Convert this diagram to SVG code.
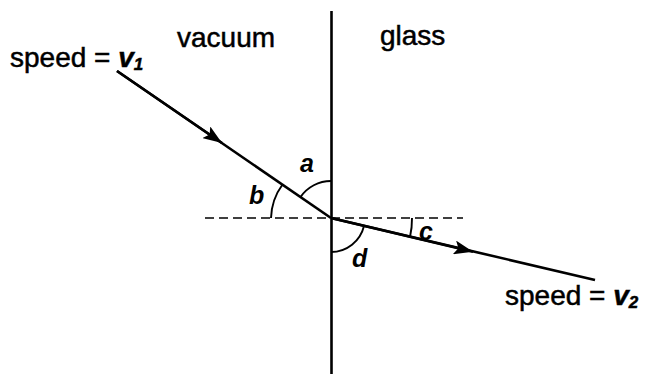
<svg xmlns="http://www.w3.org/2000/svg" width="646" height="374" viewBox="0 0 646 374">
<style>
text{font-family:"Liberation Sans",Arial,sans-serif;fill:#000;stroke:#000;stroke-width:0.5}
.lbl{font-size:28px}
.ang{font-size:25px;font-style:italic;font-weight:bold;stroke-width:0}
.it{font-style:italic;font-weight:bold}
.sub{font-size:17px;font-style:italic;font-weight:bold}
.ray{stroke:#000;stroke-width:2.6;fill:none}
.arc{stroke:#000;stroke-width:1.9;fill:none}
</style>
<defs>
<marker id="ah" markerWidth="19" markerHeight="14" refX="19" refY="7" orient="auto" markerUnits="userSpaceOnUse">
<path d="M0,0 L19,7 L0,14 L4,7 Z" fill="#000"/>
</marker>
</defs>
<g id="boundary">
<line x1="331.5" y1="11" x2="331.5" y2="374" stroke="#000" stroke-width="2.6"/>
<line x1="205" y1="218" x2="463" y2="218" stroke="#000" stroke-width="1.6" stroke-dasharray="9,5"/>
</g>
<g id="connectors">
<line class="ray" x1="117" y1="71" x2="331" y2="218"/>
<line class="ray" x1="117" y1="71" x2="222" y2="143" marker-end="url(#ah)"/>
<line class="ray" x1="331" y1="218" x2="595" y2="280"/>
<line class="ray" x1="331" y1="218" x2="473" y2="251.8" marker-end="url(#ah)"/>
</g>
<g id="angles">
<path class="arc" d="M331,181 A37,37 0 0 0 300.5,197"/>
<path class="arc" d="M271,218 A60,60 0 0 1 282.5,184.5"/>
<path class="arc" d="M412,218 A81,81 0 0 1 410,237"/>
<path class="arc" d="M331,252 A34,34 0 0 0 364,226"/>
<text class="ang" x="300" y="172">a</text>
<text class="ang" x="249" y="204">b</text>
<text class="ang" x="419" y="240">c</text>
<text class="ang" x="352" y="267">d</text>
</g>
<g id="labels">
<text class="lbl" x="10" y="67">speed = <tspan class="it">v</tspan><tspan class="sub" dy="3">1</tspan></text>
<text class="lbl" x="177" y="47">vacuum</text>
<text class="lbl" x="380" y="45">glass</text>
<text class="lbl" x="505" y="305">speed = <tspan class="it">v</tspan><tspan class="sub" dy="3">2</tspan></text>
</g>
</svg>
